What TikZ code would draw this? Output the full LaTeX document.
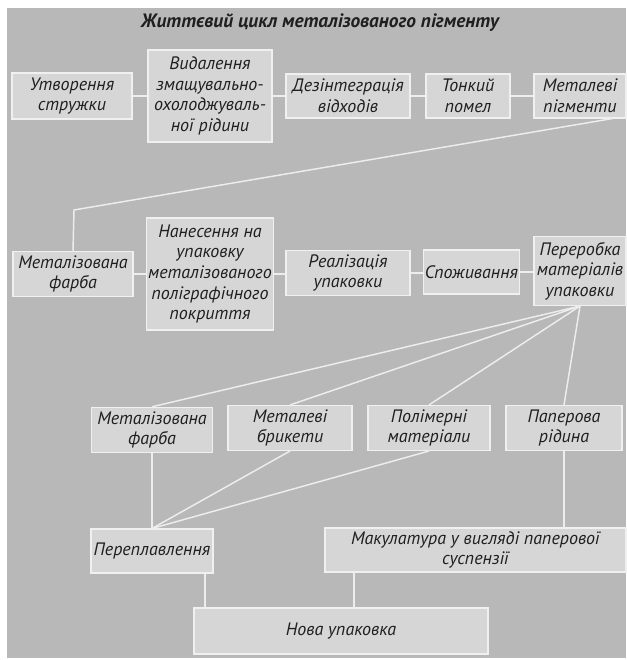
\documentclass[tikz,border=0pt]{standalone}
\usepackage{xcolor}
\usepackage{fontspec}
\setmainfont{PT Sans}
\usepackage{tikz}
\usetikzlibrary{calc}

\definecolor{paper}{gray}{0.72}
\definecolor{boxfill}{gray}{0.84}
\definecolor{boxedge}{gray}{0.94}
\definecolor{linkcol}{gray}{0.93}
\definecolor{ink}{gray}{0.12}

\begin{document}
\begin{tikzpicture}
    [%%%%%%%%%%%%%%%%%%%%%%%%%%%%%%
        x=0.75pt, y=0.75pt,
        box/.style={rectangle, draw=boxedge, fill=boxfill, line width=0.8pt,
            inner sep=1pt, align=center, text=ink, minimum height=34pt,
            font=\fontsize{13.5}{15.4}\selectfont\itshape},
        heading/.style={text=ink, font=\fontsize{14.5}{17}\selectfont\bfseries\itshape},
        link/.style={draw=linkcol, line width=1.1pt}
    ]%%%%%%%%%%%%%%%%%%%%%%%%%%%%%%

\useasboundingbox (0,0) rectangle (626,660);
\fill[paper] (7,2) rectangle (626,652);

\node[heading] (t) at (320,637) {Життєвий цикл металізованого пігменту};

% first row
\node[box, minimum width=90pt, minimum height=34.5pt] (b1) at (72,564) {Утворення\\стружки};
\node[box, minimum width=93pt, minimum height=69pt] (b2) at (210,564) {Видалення\\змащувально-\\охолоджуваль-\\ної рідини};
\node[box, minimum width=93pt, minimum height=33pt] (b3) at (348,564) {Дезінтеграція\\відходів};
\node[box, minimum width=63pt, minimum height=33pt] (b4) at (468,564) {Тонкий\\помел};
\node[box, minimum width=69pt, minimum height=33pt] (b5) at (580,564) {Металеві\\пігменти};

% second row
\node[box, minimum width=90pt, minimum height=33.75pt] (c1) at (73,386) {Металізована\\фарба};
\node[box, minimum width=93pt, minimum height=84pt] (c2) at (210,386) {Нанесення на\\упаковку\\металізованого\\поліграфічного\\покриття};
\node[box, minimum width=93pt, minimum height=33.75pt] (c3) at (348,387) {Реалізація\\упаковки};
\node[box, minimum width=68.25pt, minimum height=33pt] (c4) at (471.5,388) {Споживання};
\node[box, minimum width=69pt, minimum height=51.75pt] (c5) at (580,389) {Переробка\\матеріалів\\упаковки};

% third row
\node[box, minimum width=90.75pt] (d1) at (152,230) {Металізована\\фарба};
\node[box, minimum width=93pt, minimum height=33.75pt] (d2) at (290,232) {Металеві\\брикети};
\node[box, minimum width=91.5pt, minimum height=33.75pt] (d3) at (429,232) {Полімерні\\матеріали};
\node[box, minimum width=87pt, minimum height=33.75pt] (d4) at (564,232) {Паперова\\рідина};

% fourth and fifth row
\node[box, minimum width=91.5pt, minimum height=33pt] (e1) at (152,109) {Переплавлення};
\node[box, minimum width=225.75pt, minimum height=33pt] (e2) at (475.5,110) {Макулатура у вигляді паперової\\суспензії};
\node[box, minimum width=220.5pt, minimum height=34.5pt] (f1) at (341,29) {Нова упаковка};

\coordinate (k1) at (74,450);
\coordinate (j1) at (205,80);
\coordinate (j2) at (354,80);

% connectors
\foreach \a/\b in {b1/b2,b2/b3,b3/b4,b4/b5,c1/c2,c2/c3,c3/c4,c4/c5}
    \draw[link] (\a.east) -- (\a.east -| \b.west);
\draw[link] ($(b5.south)!0.7!(b5.south east)$) -- (k1) -- (c1.north);
\foreach \d in {d1,d2,d3,d4}
    \draw[link] (c5.south) -- (\d.north);
\foreach \d in {d1,d2,d3}
    \draw[link] (\d.south) -- (e1.north);
\draw[link] (d4.south) -- (d4.south |- e2.north);
\draw[link] (j1 |- e1.south) -- (j1 |- f1.north);
\draw[link] (j2 |- e2.south) -- (j2 |- f1.north);

\end{tikzpicture}
\end{document}
